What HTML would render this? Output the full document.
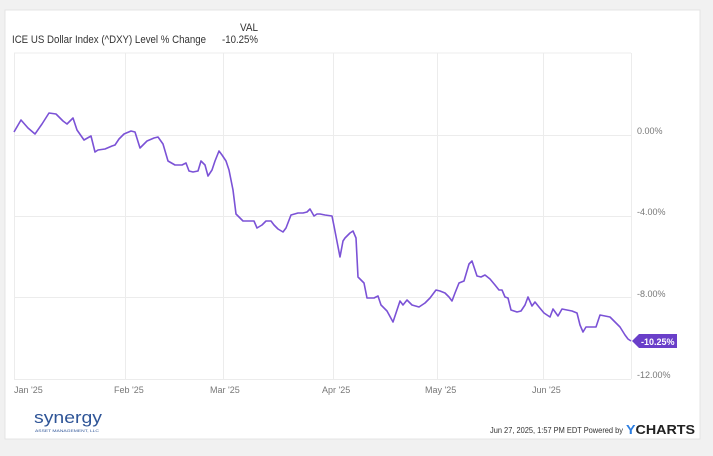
<!DOCTYPE html><html><head><style>
body{margin:0;background:#f1f1f1;width:713px;height:451px;overflow:hidden;font-family:"Liberation Sans",sans-serif}
</style></head><body>
<svg width="713" height="451" xmlns="http://www.w3.org/2000/svg" font-family="Liberation Sans, sans-serif">
<rect x="0" y="0" width="713" height="451" fill="#f1f1f1"/>
<rect x="5" y="10" width="695" height="429" fill="#fff" stroke="#e4e4e4"/>
<text x="12" y="43" font-size="11" fill="#333" textLength="194" lengthAdjust="spacingAndGlyphs">ICE US Dollar Index (^DXY) Level % Change</text>
<text x="240" y="31" font-size="11" fill="#333" textLength="18" lengthAdjust="spacingAndGlyphs">VAL</text>
<text x="222" y="43" font-size="11" fill="#333" textLength="36" lengthAdjust="spacingAndGlyphs">-10.25%</text>
<g stroke="#ececec" stroke-width="1">
<line x1="14" y1="53" x2="631" y2="53"/>
<line x1="14" y1="135.5" x2="631" y2="135.5"/>
<line x1="14" y1="216.5" x2="631" y2="216.5"/>
<line x1="14" y1="297.5" x2="631" y2="297.5"/>
<line x1="14" y1="379.5" x2="631" y2="379.5"/>
<line x1="14.5" y1="53" x2="14.5" y2="379"/>
<line x1="125.5" y1="53" x2="125.5" y2="379"/>
<line x1="223.5" y1="53" x2="223.5" y2="379"/>
<line x1="333.5" y1="53" x2="333.5" y2="379"/>
<line x1="437.5" y1="53" x2="437.5" y2="379"/>
<line x1="543.5" y1="53" x2="543.5" y2="379"/>
<line x1="631.5" y1="53" x2="631.5" y2="379"/>
</g>
<g font-size="9" fill="#777">
<text x="637" y="134">0.00%</text>
<text x="637" y="215">-4.00%</text>
<text x="637" y="297">-8.00%</text>
<text x="637" y="378">-12.00%</text>
<text x="14" y="393">Jan '25</text>
<text x="114" y="393">Feb '25</text>
<text x="210" y="393">Mar '25</text>
<text x="322" y="393">Apr '25</text>
<text x="425" y="393">May '25</text>
<text x="532" y="393">Jun '25</text>
</g>
<polyline fill="none" stroke="#7b52d6" stroke-width="1.6" stroke-linejoin="round" points="14,132 21,120 28,128 35,134 42,124 49,113 56,114 63,121 67,124 73,118 77,130 84,140 91,136 95,152 98,150 105,149 112,146 115,145 119,139 124,134 131,131 135,132 140,148 147,141 154,138 158,137 163,144 168,161 175,165 182,165 186,163 189,171 193,172 198,171 201,161 205,165 208,176 212,170 215,161 219,151 222,155 226,161 229,170 233,190 236,214 240,218 243,221 250,221 254,221 257,228 262,225 266,221 271,221 274,225 278,229 283,232 286,228 291,215 298,213 303,213 307,212 310,209 314,216 317,214 320,214 325,215 332,216 334,226 340,257 343,241 345,238 350,233 353,231 356,238 358,277 364,283 367,298 374,298 378,296 381,305 387,311 393,322 400,301 403,305 407,300 412,305 419,307 425,303 430,298 436,290 440,291 445,293 449,297 452,301 455,293 459,283 464,281 469,264 472,261 477,276 481,277 485,275 490,279 495,285 499,290 502,290 505,297 508,298 511,310 517,312 521,311 525,305 528,297 532,306 535,302 539,307 544,313 550,317 553,309 558,316 562,309 567,310 572,311 577,313 580,325 583,332 586,327 590,327 596,327 600,315 605,316 610,317 615,322 620,327 625,335 628,339 631,341"/>
<polygon points="632,341 639,334 677,334 677,348 639,348" fill="#6a3fc9"/>
<text x="641" y="345" font-size="9" font-weight="bold" fill="#fff">-10.25%</text>
<text x="34" y="423" font-size="17" fill="#2f5597" textLength="68" lengthAdjust="spacingAndGlyphs">synergy</text>
<text x="35" y="432" font-size="4" fill="#2f5597" textLength="64" lengthAdjust="spacingAndGlyphs">ASSET MANAGEMENT, LLC</text>
<text x="490" y="433" font-size="8.5" fill="#333" textLength="133" lengthAdjust="spacingAndGlyphs">Jun 27, 2025, 1:57 PM EDT Powered by</text>
<text x="626" y="434" font-size="13" font-weight="bold" fill="#222" textLength="69" lengthAdjust="spacingAndGlyphs"><tspan fill="#2a7de1">Y</tspan>CHARTS</text>
</svg>
</body></html>
